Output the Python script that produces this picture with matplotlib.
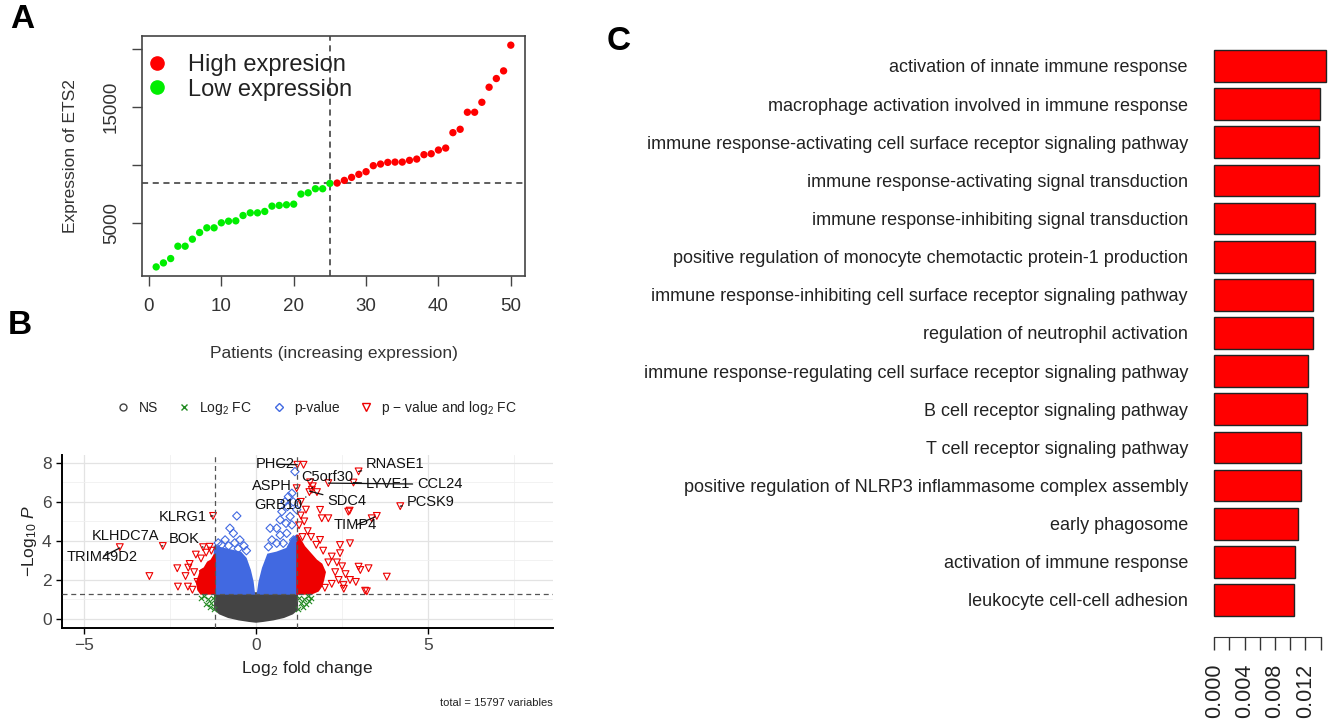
import matplotlib
matplotlib.use("Agg")
from matplotlib import pyplot as plt
from matplotlib.lines import Line2D

# ---------------- panel A: ETS2 expression per patient ----------------
patients = list(range(1, 51))
ets2_expr = [1225, 1570, 1945, 3010, 3010, 3617, 4193, 4597, 4597, 5030,
             5170, 5200, 5660, 5890, 5890, 6010, 6470, 6530, 6585, 6640,
             7510, 7620, 7970, 7970, 8430, 8460, 8690, 8950, 9210, 9440,
             9960, 10100, 10245, 10270, 10270, 10420, 10530, 10910, 10990, 11310,
             11480, 12810, 13100, 14570, 14570, 15430, 16730, 17480, 18140, 20360]
ets2_median = 8430
split_patient = 25

# ---------------- panel B: volcano ----------------
fc_cut = 1.2
p_cut = 1.301
# dense clouds (outlines)
ns_cloud = [(-1.18, 1.3), (1.18, 1.3), (1.18, 0.5), (1.05, 0.3), (0.8, 0.12), (0.5, 0.0),
            (0.2, -0.08), (0.0, -0.12), (-0.2, -0.08), (-0.5, 0.0), (-0.8, 0.12),
            (-1.05, 0.3), (-1.18, 0.5)]
p_cloud_left = [(-1.2, 1.3), (-0.06, 1.3), (-0.1, 1.9), (-0.18, 2.5), (-0.3, 3.1),
                (-0.45, 3.4), (-0.7, 3.5), (-0.95, 3.6), (-1.2, 3.7)]
p_cloud_right = [(0.05, 1.3), (1.2, 1.3), (1.2, 4.3), (1.05, 4.1), (0.9, 3.6),
                 (0.6, 3.4), (0.35, 3.3), (0.2, 2.6), (0.1, 1.9)]
both_cloud_left = [(-1.2, 1.3), (-1.2, 3.3), (-1.3, 3.0), (-1.4, 2.9), (-1.5, 2.6),
                   (-1.6, 2.5), (-1.65, 2.2), (-1.72, 1.9), (-1.68, 1.5), (-1.6, 1.3)]
both_cloud_right = [(1.2, 1.3), (1.2, 4.3), (1.3, 4.0), (1.4, 3.7), (1.5, 3.5), (1.6, 3.3),
                    (1.75, 3.0), (1.9, 2.8), (2.0, 2.4), (1.95, 2.0), (1.9, 1.7),
                    (1.8, 1.45), (1.6, 1.3)]
# sparse points
fc_x = [-1.25, -1.3, -1.4, -1.5, -1.35, -1.45, -1.22, -1.6,
        1.25, 1.3, 1.4, 1.5, 1.35, 1.45, 1.22, 1.6, 1.55]
fc_y = [1.1, 0.8, 1.0, 1.2, 0.6, 0.75, 0.5, 1.1,
        1.1, 0.8, 1.0, 1.2, 0.6, 0.75, 0.5, 1.1, 0.9]
pv_x = [1.13, 1.04, 0.91, 0.75, 0.99, 0.7, 0.87, 0.6, 0.41, 1.04, 0.7, 0.46, 0.89,
        0.36, 0.79, 1.09, 0.6, 1.18, 0.84, 0.94, 1.08,
        -0.56, -0.76, -0.66, -0.9, -0.47, -0.62, -0.8, -1.0, -0.35, -0.52, -1.1, -0.28]
pv_y = [7.55, 6.44, 5.76, 5.5, 5.25, 5.08, 4.9, 4.65, 4.65, 4.82, 4.3, 4.05, 4.39,
        3.7, 3.88, 4.05, 3.88, 5.6, 6.0, 6.27, 6.0,
        5.28, 4.65, 4.39, 4.05, 4.05, 3.9, 3.75, 3.8, 3.75, 3.6, 3.9, 3.5]
both_x = [-3.1, -3.96, -2.71, -1.25, -2.29, -1.97, -1.93, -2.27, -1.98, -1.54, -1.75,
          -1.6, -1.45, -1.35, -1.3, -1.8, -2.05, -1.7, -1.55, -1.85,
          1.38, 1.2, 1.18, 1.57, 1.65, 1.55, 1.77, 2.98, 2.83, 2.1, 1.62, 1.86, 2.68,
          2.72, 1.91, 2.1, 3.51, 3.36, 4.19, 2.44, 2.73, 2.44, 2.98, 3.03, 3.27, 3.8,
          2.54, 2.73, 3.17, 3.22, 1.86, 1.3, 1.4, 1.25, 1.5, 1.6, 1.35, 1.75, 1.95,
          2.2, 2.35, 2.1, 2.5, 2.6, 2.3, 2.4, 2.2, 2.0, 2.55, 2.9, 1.45, 1.3]
both_y = [2.2, 3.68, 3.74, 5.28, 2.6, 2.63, 2.82, 1.66, 1.66, 3.68, 3.3,
          3.1, 3.4, 3.7, 3.5, 2.4, 2.2, 1.9, 2.3, 1.5,
          7.9, 7.9, 6.7, 7.0, 6.8, 6.5, 6.5, 7.56, 6.99, 6.96, 6.62, 5.59, 5.5,
          5.55, 5.16, 5.16, 5.28, 5.16, 5.78, 3.79, 3.88, 3.37, 2.68, 2.51, 2.6, 2.17,
          1.74, 2.0, 1.45, 1.42, 4.05, 5.3, 5.0, 4.8, 4.5, 4.2, 4.2, 3.8, 3.5,
          3.2, 2.9, 2.9, 2.7, 2.3, 2.4, 2.0, 1.8, 1.6, 1.55, 1.9, 5.6, 6.0]
genes = ["PHC2", "ASPH", "GRB10", "C5orf30", "SDC4", "RNASE1", "LYVE1", "CCL24",
         "PCSK9", "TIMP4", "KLRG1", "KLHDC7A", "BOK", "TRIM49D2"]
gene_x = [1.2, 1.18, 1.45, 1.62, 1.55, 2.98, 2.83, 2.1, 4.19, 3.46, -1.25, -2.71, -1.54, -3.96]
gene_y = [7.9, 6.7, 6.25, 6.7, 6.55, 7.56, 6.99, 6.96, 5.78, 5.23, 5.28, 3.74, 3.68, 3.64]
label_x = [0.56, 0.46, 0.66, 2.06, 2.63, 4.04, 3.83, 5.33, 5.07, 2.89, -2.14, -3.8, -2.09, -4.47]
label_y = [7.93, 6.8, 5.86, 7.28, 6.05, 7.93, 6.9, 6.9, 6.0, 4.8, 5.23, 4.24, 4.12, 3.18]

# ---------------- panel C: GO terms ----------------
go_terms = ["activation of innate immune response",
            "macrophage activation involved in immune response",
            "immune response-activating cell surface receptor signaling pathway",
            "immune response-activating signal transduction",
            "immune response-inhibiting signal transduction",
            "positive regulation of monocyte chemotactic protein-1 production",
            "immune response-inhibiting cell surface receptor signaling pathway",
            "regulation of neutrophil activation",
            "immune response-regulating cell surface receptor signaling pathway",
            "B cell receptor signaling pathway",
            "T cell receptor signaling pathway",
            "positive regulation of NLRP3 inflammasome complex assembly",
            "early phagosome",
            "activation of immune response",
            "leukocyte cell-cell adhesion"]
go_values = [0.01472, 0.01385, 0.01376, 0.01376, 0.01328, 0.01328, 0.01298, 0.01298,
             0.01232, 0.01215, 0.01140, 0.01140, 0.01101, 0.01066, 0.01053]
go_ticks = [0.000, 0.002, 0.004, 0.006, 0.008, 0.010, 0.012, 0.014]
go_ticklabels = ["0.000", "", "0.004", "", "0.008", "", "0.012", ""]

W, H = 1329, 727
plt.rcParams['font.family'] = ['Liberation Sans', 'DejaVu Sans']
plt.rcParams['mathtext.fontset'] = 'custom'
plt.rcParams['mathtext.rm'] = 'Liberation Sans'
plt.rcParams['mathtext.it'] = 'Liberation Sans:italic'


def box(l, t, r, b):
    return [l / W, 1 - b / H, (r - l) / W, (b - t) / H]


fig = plt.figure(figsize=(W / 100, H / 100), dpi=100)

# ---- A ----
axA = fig.add_axes(box(142, 36, 525, 276))
colors = ["#00EE00" if p <= split_patient else "#FF0000" for p in patients]
axA.scatter(patients, ets2_expr, c=colors, s=28, edgecolors="none", zorder=3)
axA.axhline(ets2_median, color="#333333", ls=(0, (4, 3)), lw=1.1)
axA.axvline(split_patient, color="#333333", ls=(0, (4, 3)), lw=1.1)
axA.set_xlim(-0.96, 51.96)
axA.set_ylim(440, 21150)
axA.set_xticks(range(0, 51, 10))
axA.set_yticks([5000, 10000, 15000, 20000])
axA.set_yticklabels(["5000", "", "15000", ""], rotation=90, va="center")
axA.tick_params(length=7, width=1, color="#444444", labelsize=13.5, labelcolor="#333333", pad=9)
for s in axA.spines.values():
    s.set_color("#444444")
    s.set_linewidth(1.2)
axA.set_xlabel("Patients (increasing expression)", fontsize=12.5, color="#333333", labelpad=22)
axA.set_ylabel("Expression of ETS2", fontsize=12.5, color="#333333", labelpad=18)
hA = [Line2D([], [], marker="o", ls="", color="#FF0000", ms=9.5),
      Line2D([], [], marker="o", ls="", color="#00EE00", ms=9.5)]
axA.legend(hA, ["High expresion", "Low expression"], loc="upper left",
           bbox_to_anchor=(-0.01, 0.955), frameon=False,
           fontsize=17, handletextpad=0.8, handlelength=1.0, borderaxespad=0.0,
           borderpad=0.3, labelspacing=0.12, labelcolor="#222222")

# ---- B ----
axB = fig.add_axes(box(62, 455, 553, 628))
axB.set_xlim(-5.64, 8.63)
axB.set_ylim(-0.46, 8.4)
axB.set_xticks([-5, 0, 5])
axB.set_xticks([-2.5, 2.5, 7.5], minor=True)
axB.set_yticks([0, 2, 4, 6, 8])
axB.set_yticks([1, 3, 5, 7], minor=True)
axB.grid(which="major", color="#e3e3e3", lw=0.9)
axB.grid(which="minor", color="#f0f0f0", lw=0.6)
axB.set_axisbelow(True)
axB.tick_params(which="minor", length=0)
axB.tick_params(which="major", length=4, width=1, labelsize=12.5, labelcolor="#444444")
for k in ["top", "right"]:
    axB.spines[k].set_visible(False)
for k in ["left", "bottom"]:
    axB.spines[k].set_linewidth(1.4)

axB.fill(*zip(*ns_cloud), color="#444444", lw=2, ec="#444444", zorder=2)
axB.fill(*zip(*p_cloud_left), color="#4169E1", lw=1.5, ec="#4169E1", zorder=2)
axB.fill(*zip(*p_cloud_right), color="#4169E1", lw=1.5, ec="#4169E1", zorder=2)
axB.fill(*zip(*both_cloud_left), color="#EE0000", lw=1.5, ec="#EE0000", zorder=2)
axB.fill(*zip(*both_cloud_right), color="#EE0000", lw=1.5, ec="#EE0000", zorder=2)
axB.scatter(fc_x, fc_y, marker="x", s=14, color="#228B22", lw=0.8, zorder=3)
axB.scatter(pv_x, pv_y, marker="D", s=18, facecolors="none", edgecolors="#4169E1", lw=0.8, zorder=3)
axB.scatter(both_x, both_y, marker="v", s=24, facecolors="none", edgecolors="#EE0000", lw=0.8, zorder=3)
axB.axvline(-fc_cut, color="#555555", ls=(0, (4, 3)), lw=0.9, zorder=4)
axB.axvline(fc_cut, color="#555555", ls=(0, (4, 3)), lw=0.9, zorder=4)
axB.axhline(p_cut, color="#555555", ls=(0, (4, 3)), lw=0.9, zorder=4)
for g, gx, gy, lx, ly in zip(genes, gene_x, gene_y, label_x, label_y):
    axB.annotate(g, xy=(gx, gy), xytext=(lx, ly), ha="center", va="center",
                 fontsize=10.5, color="#111111", zorder=5,
                 arrowprops=dict(arrowstyle="-", lw=0.9, color="#111111", shrinkA=1, shrinkB=0))
axB.set_xlabel("Log$_2$ fold change", fontsize=12.5, color="#222222", labelpad=4)
axB.set_ylabel(r"$-$Log$_{10}$ $\mathit{P}$", fontsize=12.5, color="#222222", labelpad=2)

hB = [Line2D([], [], marker="o", ls="", mfc="none", mec="#444444", ms=5),
      Line2D([], [], marker="x", ls="", color="#228B22", ms=5),
      Line2D([], [], marker="D", ls="", mfc="none", mec="#4169E1", ms=4.5),
      Line2D([], [], marker="v", ls="", mfc="none", mec="#EE0000", ms=5.5)]
fig.legend(hB, ["NS", "Log$_2$ FC", "p-value", "p $-$ value and log$_2$ FC"],
           loc="center", bbox_to_anchor=(316 / W, 1 - 408 / H), ncol=4, frameon=False,
           fontsize=10, handletextpad=0.5, handlelength=1.2, columnspacing=1.3,
           labelcolor="#222222")
fig.text(553 / W, 1 - 703 / H, "total = 15797 variables", ha="right", va="center",
         fontsize=8, color="#222222")

# ---- C ----
axC = fig.add_axes(box(1214.3, 27.5, 1327.5, 637))
pos = [0.7 + 1.2 * i for i in range(len(go_terms))][::-1]
axC.barh(pos, go_values, height=1.0, color="#FF0000", edgecolor="#222222", lw=1.0, clip_on=False)
axC.set_xlim(0, 0.0149)
axC.set_ylim(-0.464, 18.71)
axC.set_yticks(pos)
axC.set_yticklabels(go_terms, fontsize=13, color="#222222")
axC.tick_params(axis="y", length=0, pad=19)
axC.set_xticks(go_ticks)
axC.set_xticklabels(go_ticklabels, rotation=90, fontsize=15.5, color="#222222")
axC.tick_params(axis="x", length=9, width=1, color="#333333", pad=10)
for k in ["top", "right", "left"]:
    axC.spines[k].set_visible(False)
axC.spines["bottom"].set_bounds(0, 0.014)
axC.spines["bottom"].set_color("#333333")

# panel letters
fig.text(10 / W, 1 - 20 / H, "A", fontsize=24, fontweight="bold", va="center")
fig.text(8 / W, 1 - 325 / H, "B", fontsize=24, fontweight="bold", va="center")
fig.text(607 / W, 1 - 42 / H, "C", fontsize=24, fontweight="bold", va="center")

fig.savefig("out.png", dpi=100)
